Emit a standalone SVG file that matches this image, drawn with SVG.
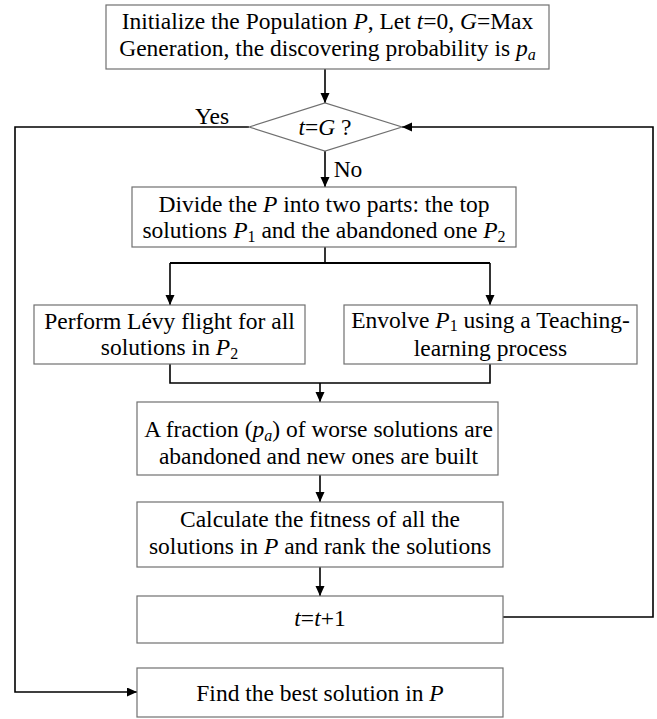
<svg xmlns="http://www.w3.org/2000/svg" width="657" height="719" viewBox="0 0 657 719">
<style>
.box{fill:#fff;stroke:#707070;stroke-width:1.2}
.c{fill:none;stroke:#000;stroke-width:1.6}
text{font-family:"Liberation Serif","Times New Roman",serif;font-size:23.5px;fill:#000;text-anchor:middle}
.i{font-style:italic}
.s{font-size:16px}
</style>
<defs>
<marker id="ah" markerUnits="userSpaceOnUse" markerWidth="11" markerHeight="10" refX="10" refY="4.5" orient="auto">
<path d="M0,0 L10,4.5 L0,9 z" fill="#000"/>
</marker>
</defs>
<rect width="657" height="719" fill="#fff"/>
<g id="connectors">
<path class="c" d="M325,69 V103" marker-end="url(#ah)"/>
<path class="c" d="M325,151 V187" marker-end="url(#ah)"/>
<path class="c" d="M325,247 V263"/>
<path class="c" d="M170,263 H490" style="stroke-width:2.2"/>
<path class="c" d="M170,263 V305" marker-end="url(#ah)"/>
<path class="c" d="M490,263 V305" marker-end="url(#ah)"/>
<path class="c" d="M170,364 V383 H490 V364"/>
<path class="c" d="M320,383 V402" marker-end="url(#ah)"/>
<path class="c" d="M320,475 V502" marker-end="url(#ah)"/>
<path class="c" d="M320,567 V596" marker-end="url(#ah)"/>
<path class="c" d="M503,617 H653 V127 H402" marker-end="url(#ah)"/>
<path class="c" d="M249,127 H15 V692 H137" marker-end="url(#ah)"/>
<text x="212" y="124">Yes</text>
<text x="348" y="177">No</text>
</g>
<g id="init">
<rect class="box" x="106" y="5" width="443" height="64"/>
<text x="327.5" y="29">Initialize the Population <tspan class="i">P</tspan>, Let <tspan class="i">t</tspan>=0, <tspan class="i">G</tspan>=Max</text>
<text x="327.5" y="56">Generation, the discovering probability is <tspan class="i">p</tspan><tspan class="i s" dy="4">a</tspan></text>
</g>
<g id="decision">
<polygon class="box" points="249,127 325,103 402,127 325,151"/>
<text x="325" y="135"><tspan class="i">t</tspan>=<tspan class="i">G</tspan> ?</text>
</g>
<g id="divide">
<rect class="box" x="132" y="187" width="384" height="60"/>
<text x="324" y="211.5">Divide the <tspan class="i">P</tspan> into two parts: the top</text>
<text x="324" y="238">solutions <tspan class="i">P</tspan><tspan class="s" dy="4">1</tspan><tspan dy="-4"> and the abandoned one </tspan><tspan class="i">P</tspan><tspan class="s" dy="4">2</tspan></text>
</g>
<g id="levy">
<rect class="box" x="34" y="305" width="271" height="59"/>
<text x="169.5" y="328.5">Perform Lévy flight for all</text>
<text x="169.5" y="355">solutions in <tspan class="i">P</tspan><tspan class="s" dy="4">2</tspan></text>
</g>
<g id="teaching">
<rect class="box" x="344" y="305" width="293" height="59"/>
<text x="490.5" y="328">Envolve <tspan class="i">P</tspan><tspan class="s" dy="3">1</tspan><tspan dy="-3"> using a Teaching-</tspan></text>
<text x="490.5" y="355.5">learning process</text>
</g>
<g id="fraction">
<rect class="box" x="137" y="402" width="361" height="73"/>
<text x="318.5" y="437">A fraction (<tspan class="i">p</tspan><tspan class="i s" dy="4">a</tspan><tspan dy="-4">) of worse solutions are</tspan></text>
<text x="318.5" y="464">abandoned and new ones are built</text>
</g>
<g id="fitness">
<rect class="box" x="137" y="502" width="366" height="65"/>
<text x="320" y="527">Calculate the fitness of all the</text>
<text x="320" y="554">solutions in <tspan class="i">P</tspan> and rank the solutions</text>
</g>
<g id="increment">
<rect class="box" x="137" y="596" width="366" height="47"/>
<text x="320" y="626"><tspan class="i">t</tspan>=<tspan class="i">t</tspan>+1</text>
</g>
<g id="best">
<rect class="box" x="137" y="668" width="366" height="49"/>
<text x="320" y="701">Find the best solution in <tspan class="i">P</tspan></text>
</g>
</svg>
